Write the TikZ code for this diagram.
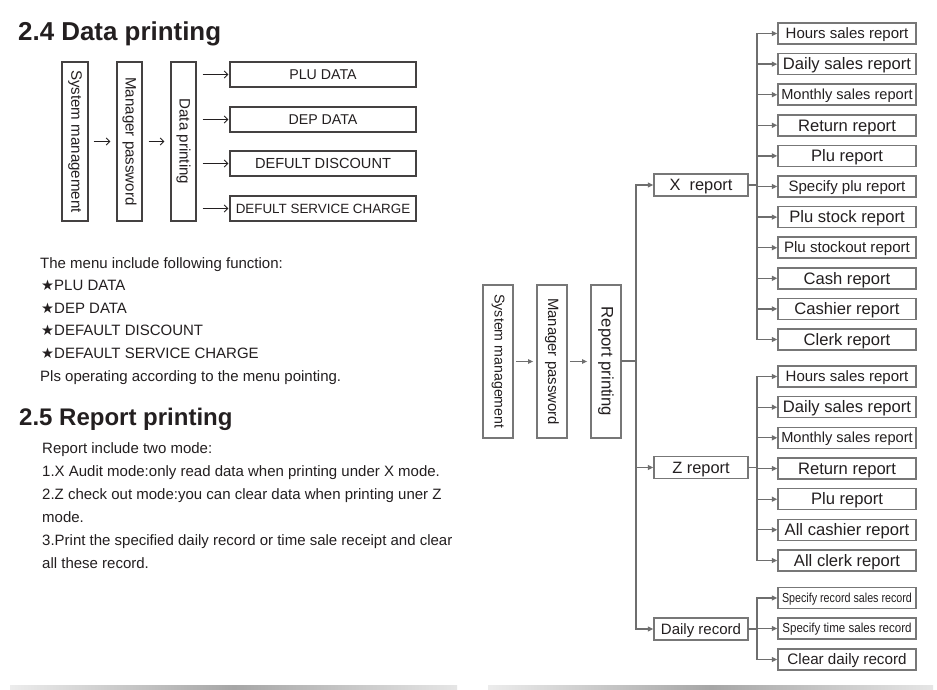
\documentclass[tikz,border=0pt]{standalone}
\usepackage{fontspec}
\setmainfont{Liberation Sans}
\newfontfamily\dejavu{DejaVu Sans}
\usepackage{graphicx}
\usetikzlibrary{arrows.meta,calc}
\definecolor{ink}{HTML}{231F20}
\definecolor{lg}{HTML}{6E6E6E}
\definecolor{bd}{HTML}{777777}
\newcommand\fsz[1]{\fontsize{#1}{#1}\selectfont}
\newcommand\cb[1]{\raisebox{0pt}[\fontcharht\font`\H][0pt]{#1}}
\begin{document}
\begin{tikzpicture}[x=1pt,y=-1pt,
  lvbox/.style={draw=ink!85, line width=1.1pt, inner sep=0pt, minimum height=159pt},
  lhbox/.style={draw=ink!85, line width=1.1pt, inner sep=0pt, minimum width=186pt, minimum height=25pt, font=\fsz{14.2}, text=ink},
  larr/.style={draw=ink, line width=1pt, -{Straight Barb[length=3.5pt,width=7pt]}},
  rvbox/.style={draw=bd, line width=1.8pt, inner sep=0pt, minimum width=30pt, minimum height=153pt},
  rbox/.style={draw=bd, line width=1.5pt, inner sep=0pt, minimum width=138pt, minimum height=21pt, text=ink, font=\fsz{16.6}},
  pbox/.style={draw=bd, line width=1.5pt, inner sep=0pt, minimum width=94pt, minimum height=22pt, text=ink, font=\fsz{16.4}},
  rline/.style={draw=lg, line width=1.8pt, line cap=rect},
  rarr/.style={draw=lg, line width=1.3pt, -{Triangle[length=5.5pt,width=5pt]}},
  smallarr/.style={draw=lg, line width=1.1pt, -{Triangle[length=5pt,width=4.5pt]}},
  vtext/.style={rotate=-90, text=ink, inner sep=0pt},
  body/.style={anchor=base west, inner sep=0pt, text=ink, font=\fsz{15}},
  title/.style={anchor=base west, inner sep=0pt, text=ink, font=\bfseries\fsz{25.9}},
]
\useasboundingbox[fill=white] (0,0) rectangle (937,690);

% ---------- 2.4 Data printing ----------
\node[title] (h1) at (18,41) {2.4 Data printing};

\node[lvbox, minimum width=26pt] (sm1) at (75,141.5) {};
\node[vtext, font=\fsz{15.1}] (sm1t) at (sm1) {System management};
\node[lvbox, minimum width=25pt] (mp1) at (129.5,141.5) {};
\node[vtext, font=\fsz{15.1}] (mp1t) at (mp1) {Manager password};
\node[lvbox, minimum width=25pt] (dp1) at (183.5,141.5) {};
\node[vtext, font=\fsz{15.1}] (dp1t) at (dp1) {Data printing};

\draw[larr, shorten <=5pt, shorten >=6pt] (sm1.east) -- (mp1.west);
\draw[larr, shorten <=6pt, shorten >=6pt] (mp1.east) -- (dp1.west);

\node[lhbox] (plu) at (323,74.5) {\cb{PLU DATA}};
\node[lhbox] (dep) at (323,119.5) {\cb{DEP DATA}};
\node[lhbox, font=\fsz{14.6}] (dis) at (323,163.5) {\cb{DEFULT DISCOUNT}};
\node[lhbox, font=\fsz{13.4}] (svc) at (323,208.5) {\cb{DEFULT SERVICE CHARGE}};

\foreach \n in {plu,dep,dis,svc}{
  \draw[larr, shorten <=6pt, shorten >=1pt] (\n.west -| dp1.east) -- (\n.west);
}

% ---------- body text ----------
\node[body] (t1) at (40,268) {The menu include following function:};
\node[body] (t2) at (41,290.6) {{\dejavu\fsz{14.5}★}PLU DATA};
\node[body] (t3) at (41,313.2) {{\dejavu\fsz{14.5}★}DEP DATA};
\node[body] (t4) at (41,335.8) {{\dejavu\fsz{14.5}★}DEFAULT DISCOUNT};
\node[body] (t5) at (41,358.4) {{\dejavu\fsz{14.5}★}DEFAULT SERVICE CHARGE};
\node[body] (t6) at (40,381) {Pls operating according to the menu pointing.};

\node[title, font=\bfseries\fsz{24}] (h2) at (19,425) {2.5 Report printing};

\node[body] (r1) at (42,453) {Report include two mode:};
\node[body] (r2) at (42,476) {1.X Audit mode:only read data when printing under X mode.};
\node[body] (r3) at (42,499) {2.Z check out mode:you can clear data when printing uner Z};
\node[body] (r4) at (42,522) {mode.};
\node[body] (r5) at (42,545) {3.Print the specified daily record or time sale receipt and clear};
\node[body] (r6) at (42,568) {all these record.};

% ---------- Report printing diagram ----------
\node[rvbox] (sm2) at (498,361.5) {};
\node[vtext, font=\fsz{14.2}] (sm2t) at (sm2) {System management};
\node[rvbox] (mp2) at (552,361.5) {};
\node[vtext, font=\fsz{14.9}] (mp2t) at (mp2) {Manager password};
\node[rvbox] (rp2) at (606,361.5) {};
\node[vtext, font=\fsz{16.7}] (rp2t) at (rp2) {Report printing};

\draw[smallarr, shorten <=2pt, shorten >=3pt] (sm2.east) -- (mp2.west);
\draw[smallarr, shorten <=2pt, shorten >=3pt] (mp2.east) -- (rp2.west);

\node[pbox] (xr) at (701,185) {\cb{X\ \ report}};
\node[pbox] (zr) at (701,467.5) {\cb{Z report}};
\node[pbox, font=\fsz{15}] (dr) at (701,629) {\cb{Daily record}};

\coordinate (mt) at (636,361);
\draw[rline] (rp2.east |- mt) -- (mt);
\draw[rline] (xr.west -| mt) -- (dr.west -| mt);
\foreach \n in {xr,zr,dr}{
  \draw[rarr] (\n.west -| mt) -- (\n.west);
}

% X report children
\node[rbox, font=\fsz{15}]   (x1)  at (847,33.5)  {\cb{Hours sales report}};
\node[rbox]                  (x2)  at (847,64.1)  {\cb{Daily sales report}};
\node[rbox, font=\fsz{14.6}] (x3)  at (847,94.7)  {\cb{Monthly sales report}};
\node[rbox]                  (x4)  at (847,125.3) {\cb{Return report}};
\node[rbox]                  (x5)  at (847,155.9) {\cb{Plu report}};
\node[rbox, font=\fsz{15}]   (x6)  at (847,186.5) {\cb{Specify plu report}};
\node[rbox]                  (x7)  at (847,217.1) {\cb{Plu stock report}};
\node[rbox, font=\fsz{15.1}] (x8)  at (847,247.7) {\cb{Plu stockout report}};
\node[rbox]                  (x9)  at (847,278.3) {\cb{Cash report}};
\node[rbox]                  (x10) at (847,308.9) {\cb{Cashier report}};
\node[rbox]                  (x11) at (847,339.5) {\cb{Clerk report}};

\coordinate (xt) at (757,185);
\draw[rline] (xr.east) -- (xt);
\draw[rline] (x1.west -| xt) -- (x11.west -| xt);
\foreach \n in {x1,x2,x3,x4,x5,x6,x7,x8,x9,x10,x11}{
  \draw[rarr] (\n.west -| xt) -- (\n.west);
}

% Z report children
\node[rbox, font=\fsz{15}]   (z1) at (847,376.5) {\cb{Hours sales report}};
\node[rbox]                  (z2) at (847,407.2) {\cb{Daily sales report}};
\node[rbox, font=\fsz{14.6}] (z3) at (847,437.8) {\cb{Monthly sales report}};
\node[rbox]                  (z4) at (847,468.5) {\cb{Return report}};
\node[rbox]                  (z5) at (847,499.2) {\cb{Plu report}};
\node[rbox]                  (z6) at (847,529.8) {\cb{All cashier report}};
\node[rbox]                  (z7) at (847,560.5) {\cb{All clerk report}};

\coordinate (zt) at (757,467.5);
\draw[rline] (zr.east) -- (zt);
\draw[rline] (z1.west -| zt) -- (z7.west -| zt);
\foreach \n in {z1,z2,z3,z4,z5,z6,z7}{
  \draw[rarr] (\n.west -| zt) -- (\n.west);
}

% Daily record children
\node[rbox, font=\fsz{13}] (d1) at (847,598)   {\cb{\scalebox{0.825}[1]{Specify record sales record}}};
\node[rbox, font=\fsz{13}] (d2) at (847,628.5) {\cb{\scalebox{0.89}[1]{Specify time sales record}}};
\node[rbox, font=\fsz{15.2}] (d3) at (847,659.5) {\cb{Clear daily record}};

\coordinate (dt) at (757,629);
\draw[rline] (dr.east) -- (dt);
\draw[rline] (d1.west -| dt) -- (d3.west -| dt);
\foreach \n in {d1,d2,d3}{
  \draw[rarr] (\n.west -| dt) -- (\n.west);
}

% ---------- bottom bars ----------
\shade[left color=gray!15, right color=gray!20, middle color=gray!70] (10,685) rectangle (457,690);
\shade[left color=gray!15, right color=gray!20, middle color=gray!70] (488,685) rectangle (933,690);
\end{tikzpicture}
\end{document}
